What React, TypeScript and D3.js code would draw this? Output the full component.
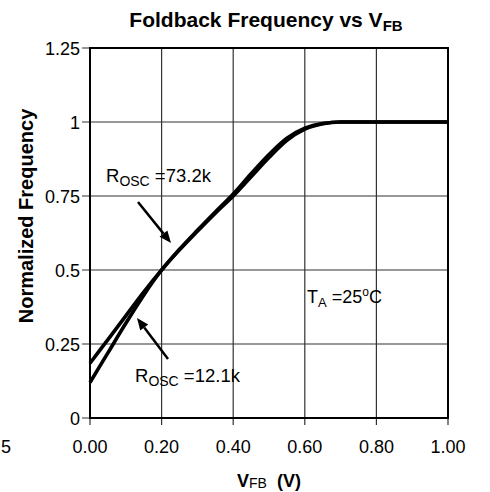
import React from "react";
import * as d3 from "d3";

const xTicks = [0, 0.2, 0.4, 0.6, 0.8, 1.0];
const xTickLabels = ["0.00", "0.20", "0.40", "0.60", "0.80", "1.00"];
const yTicks = [0, 0.25, 0.5, 0.75, 1, 1.25];
const yTickLabels = ["0", "0.25", "0.5", "0.75", "1", "1.25"];

const vfb = [0, 0.05, 0.1, 0.15, 0.2, 0.25, 0.3, 0.35, 0.4, 0.45, 0.5, 0.55, 0.6, 0.65, 0.7, 0.8, 0.9, 1.0];
const freq732k = [0.185, 0.265, 0.345, 0.425, 0.5, 0.57, 0.634, 0.696, 0.757, 0.825, 0.89, 0.945, 0.979, 0.995, 1.0, 1.0, 1.0, 1.0];
const freq121k = [0.12, 0.22, 0.32, 0.415, 0.5, 0.568, 0.631, 0.692, 0.75, 0.815, 0.88, 0.938, 0.976, 0.994, 1.0, 1.0, 1.0, 1.0];

const W = 490;
const H = 492;
const left = 90, right = 448, top = 48, bottom = 418;
const FONT = "'Liberation Sans', Arial, Helvetica, sans-serif";

export default function App() {
  const x = d3.scaleLinear().domain([0, 1]).range([left, right]);
  const y = d3.scaleLinear().domain([0, 1.25]).range([bottom, top]);
  const line = d3
    .line<number>()
    .x((_, i) => x(vfb[i]))
    .y((d) => y(d))
    .curve(d3.curveMonotoneX);

  const arrow = (x1: number, y1: number, x2: number, y2: number) => {
    const ang = Math.atan2(y2 - y1, x2 - x1);
    const len = 12, wid = 5;
    const bx = x2 - len * Math.cos(ang);
    const by = y2 - len * Math.sin(ang);
    const px = -Math.sin(ang) * wid, py = Math.cos(ang) * wid;
    return (
      <g>
        <line x1={x1} y1={y1} x2={bx} y2={by} stroke="#000" strokeWidth={2.5} />
        <polygon points={`${x2},${y2} ${bx + px},${by + py} ${bx - px},${by - py}`} fill="#000" />
      </g>
    );
  };

  return (
    <svg width={W} height={H} style={{ position: "absolute", left: 0, top: 0, background: "#fff" }} fontFamily={FONT}>
      <rect x={0} y={0} width={W} height={H} fill="#fff" />
      {/* grid */}
      {xTicks.map((t) => (
        <line key={"gx" + t} x1={x(t)} x2={x(t)} y1={top} y2={bottom + 7} stroke="#333" strokeWidth={1.2} />
      ))}
      {yTicks.map((t) => (
        <line key={"gy" + t} x1={left - 8} x2={right} y1={y(t)} y2={y(t)} stroke="#333" strokeWidth={1.2} />
      ))}
      <rect x={left} y={top} width={right - left} height={bottom - top} fill="none" stroke="#000" strokeWidth={2} />
      {/* tick labels */}
      {xTicks.map((t, i) => (
        <text key={"lx" + t} x={x(t)} y={453} textAnchor="middle" fontSize={18}>
          {xTickLabels[i]}
        </text>
      ))}
      <text x={1} y={453} textAnchor="start" fontSize={18}>5</text>
      {yTicks.map((t, i) => (
        <text key={"ly" + t} x={80} y={y(t) + 6.5} textAnchor="end" fontSize={18}>
          {yTickLabels[i]}
        </text>
      ))}
      {/* curves */}
      <path d={line(freq121k) || ""} fill="none" stroke="#000" strokeWidth={3.6} strokeLinejoin="round" />
      <path d={line(freq732k) || ""} fill="none" stroke="#000" strokeWidth={3.6} strokeLinejoin="round" />
      {/* annotations */}
      <text x={106} y={182} fontSize={18.5}>
        R<tspan fontSize={14} dy={4}>OSC</tspan>
        <tspan dy={-4}> =73.2k</tspan>
      </text>
      {arrow(138, 202, 171, 243)}
      <text x={135} y={382} fontSize={18.5}>
        R<tspan fontSize={14} dy={4}>OSC</tspan>
        <tspan dy={-4}> =12.1k</tspan>
      </text>
      {arrow(168, 359, 137, 318)}
      <text x={307} y={303} fontSize={18}>
        T<tspan fontSize={13} dy={4}>A</tspan>
        <tspan dy={-4}> =25</tspan>
        <tspan fontSize={12} dy={-7}>o</tspan>
        <tspan dy={7}>C</tspan>
      </text>
      {/* title */}
      <text x={266} y={27} textAnchor="middle" fontSize={21} fontWeight="bold">
        Foldback Frequency vs V<tspan fontSize={15} dy={4}>FB</tspan>
      </text>
      {/* axis titles */}
      <text transform={`translate(33,216) rotate(-90)`} textAnchor="middle" fontSize={20} fontWeight="bold">
        Normalized Frequency
      </text>
      <text x={237} y={487} fontSize={18} fontWeight="bold">
        V<tspan fontSize={14} fontWeight="normal" dy={1}>FB</tspan>
        <tspan dy={-1}>{"\u00A0\u00A0(V)"}</tspan>
      </text>
    </svg>
  );
}
